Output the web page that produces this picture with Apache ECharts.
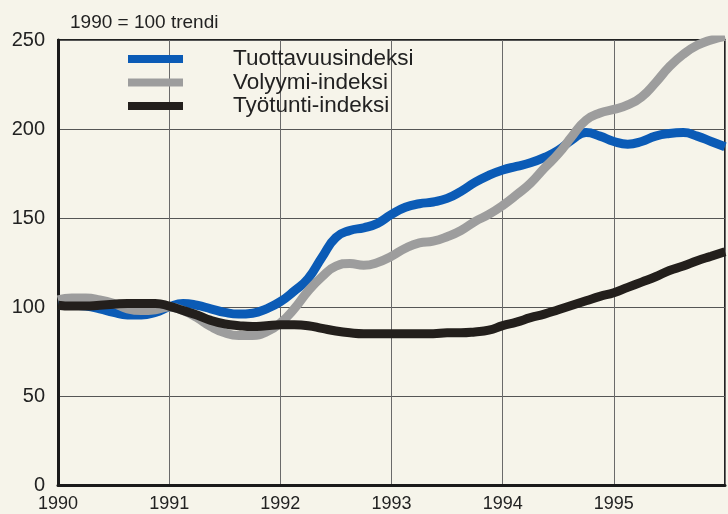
<!DOCTYPE html>
<html>
<head>
<meta charset="utf-8">
<script src="https://cdn.jsdelivr.net/npm/echarts@6/dist/echarts.min.js"></script>
<style>
  html, body { margin: 0; padding: 0; background: #f6f4ea; }
  #chart { width: 728px; height: 514px; }
</style>
</head>
<body>
<div id="chart"></div>
<script>
// aika vuosina, 1/8 vuoden välein
var years = [
  1990, 1990.125, 1990.25, 1990.375, 1990.5, 1990.625, 1990.75, 1990.875,
  1991, 1991.125, 1991.25, 1991.375, 1991.5, 1991.625, 1991.75, 1991.875,
  1992, 1992.125, 1992.25, 1992.375, 1992.5, 1992.625, 1992.75, 1992.875,
  1993, 1993.125, 1993.25, 1993.375, 1993.5, 1993.625, 1993.75, 1993.875,
  1994, 1994.125, 1994.25, 1994.375, 1994.5, 1994.625, 1994.75, 1994.875,
  1995, 1995.125, 1995.25, 1995.375, 1995.5, 1995.625, 1995.75, 1995.875,
  1996
];
var tuottavuus = [
  101, 101, 100.5, 99, 97, 95.5, 95.5, 97,
  100, 102, 101, 99, 97, 96, 96.5, 99,
  103, 109, 116, 128, 139, 143, 144.5, 147,
  152, 156, 158, 159, 161, 165, 170, 174,
  177, 179, 181, 184, 188, 194, 198, 196,
  193, 191.5, 193, 196, 197.5, 198, 196, 193,
  190
];
var volyymi = [
  104, 105, 105, 104, 102, 99, 98, 98.5,
  100, 98, 94, 89, 85.5, 84, 84, 86,
  91, 99, 109, 117, 123, 124.5, 123.5, 125,
  128.5, 133, 136, 137, 139.5, 143, 148, 152,
  157, 163, 169.5, 178, 186, 196, 205, 209,
  211, 213.5, 218, 226, 235, 242, 247, 250,
  252
];
var tyotunti = [
  101, 100.5, 100.5, 101, 101.5, 102, 102, 102,
  100.5, 98, 95.5, 92.5, 90.5, 89.5, 89, 89.5,
  90, 90, 89.5, 88, 86.5, 85.5, 85, 85,
  85, 85, 85, 85, 85.5, 85.5, 86, 87,
  89.5, 91.5, 94, 96, 98.5, 101, 103.5, 106,
  108, 111, 114, 117, 120.5, 123, 126, 128.5,
  131
];
var yTicks = [0, 50, 100, 150, 200, 250];
var xTicks = [1990, 1991, 1992, 1993, 1994, 1995];

function pairs(vals) {
  return years.map(function (y, i) { return [y, vals[i]]; });
}

var font = "'Liberation Sans', Arial, sans-serif";
var myChart = echarts.init(document.getElementById("chart"));
myChart.setOption({
  animation: false,
  backgroundColor: "#f6f4ea",
  title: {
    text: "1990 = 100 trendi",
    left: 65,
    top: 8,
    textStyle: { fontSize: 19, fontWeight: "normal", color: "#222", fontFamily: font }
  },
  legend: {
    orient: "vertical",
    left: 128,
    top: 47.5,
    padding: 0,
    itemWidth: 55,
    itemHeight: 8,
    itemGap: 0.5,
    icon: "rect",
    textStyle: {
      fontSize: 22.5,
      lineHeight: 23,
      color: "#222",
      fontFamily: font,
      padding: [0, 0, 0, 45]
    },
    data: ["Tuottavuusindeksi", "Volyymi-indeksi", "Työtunti-indeksi"]
  },
  grid: {
    left: 58,
    right: -10,
    top: 40,
    bottom: 29,
    show: true,
    borderColor: "#222",
    borderWidth: 2
  },
  xAxis: {
    type: "value",
    min: 1990,
    max: 1996,
    interval: 1,
    axisLine: { show: true, lineStyle: { color: "#1a1a1a", width: 3 } },
    axisTick: { show: false },
    axisLabel: {
      margin: 10,
      fontSize: 18,
      color: "#222",
      fontFamily: font,
      formatter: function (v) { return xTicks.indexOf(v) >= 0 ? String(v) : ""; }
    },
    splitLine: { show: true, lineStyle: { color: "#6a6a6a", width: 1 } }
  },
  yAxis: {
    type: "value",
    min: 0,
    max: 250,
    interval: 50,
    axisLine: { show: true, lineStyle: { color: "#1a1a1a", width: 3 } },
    axisTick: { show: false },
    axisLabel: {
      margin: 13,
      fontSize: 20,
      color: "#222",
      fontFamily: font,
      formatter: function (v) { return yTicks.indexOf(v) >= 0 ? String(v) : ""; }
    },
    splitLine: { show: true, lineStyle: { color: "#555", width: 1 } }
  },
  series: [
    {
      name: "Tuottavuusindeksi",
      type: "line",
      smooth: 0.5,
      symbol: "none",
      data: pairs(tuottavuus),
      itemStyle: { color: "#0b5bb6" },
      lineStyle: { color: "#0b5bb6", width: 9 }
    },
    {
      name: "Volyymi-indeksi",
      type: "line",
      smooth: 0.5,
      symbol: "none",
      data: pairs(volyymi),
      itemStyle: { color: "#9d9d9d" },
      lineStyle: { color: "#9d9d9d", width: 9 }
    },
    {
      name: "Työtunti-indeksi",
      type: "line",
      smooth: 0.5,
      symbol: "none",
      data: pairs(tyotunti),
      itemStyle: { color: "#231f1c" },
      lineStyle: { color: "#231f1c", width: 9 }
    }
  ]
});
</script>
</body>
</html>
